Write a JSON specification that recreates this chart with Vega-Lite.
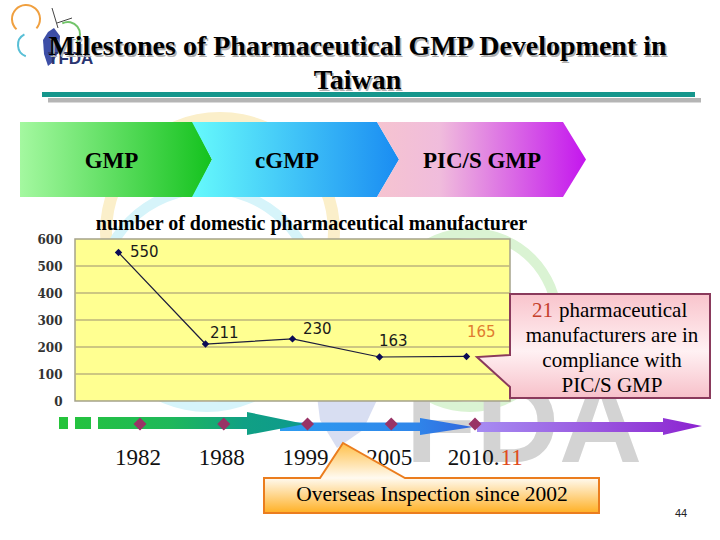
{
  "$schema": "https://vega.github.io/schema/vega-lite/v6.json",
  "width": 435,
  "height": 162,
  "autosize": {"type": "none"},
  "padding": {"left": 75, "top": 239, "right": 210, "bottom": 139},
  "background": "#ffffff",
  "config": {
    "view": {"stroke": null},
    "text": {"font": "Liberation Serif"},
    "axisY": {
      "grid": false, "domain": false, "ticks": false, "labelOverlap": false, "tickCount": 7,
      "labelFont": "DejaVu Serif", "labelFontWeight": "bold", "labelFontSize": 12,
      "labelColor": "#333333", "labelPadding": 13
    }
  },
  "datasets": {
    "manufacturers": [
      {"year": "1982", "count": 550},
      {"year": "1988", "count": 211},
      {"year": "1999", "count": 230},
      {"year": "2005", "count": 163},
      {"year": "2010.11", "count": 165}
    ],
    "gridlevels": [
      {"level": 100}, {"level": 200}, {"level": 300}, {"level": 400}, {"level": 500}
    ]
  },
  "layer": [
    {
      "data": {"values": [{}]},
      "layer": [
        {"mark": {"type": "arc", "radius": 120, "radius2": 108, "theta": 0, "theta2": 6.2832, "color": "#fbefca"},
         "encoding": {"x": {"datum": 220, "type": "quantitative", "scale": {"domain": [0, 720], "range": [-75, 645]}, "axis": null},
                      "y": {"datum": 232, "type": "quantitative", "scale": {"domain": [0, 540], "range": [-239, 301]}, "axis": null}}},
        {"mark": {"type": "arc", "radius": 114, "radius2": 104, "theta": 0, "theta2": 6.2832, "color": "#d6f4fa"},
         "encoding": {"x": {"datum": 207, "type": "quantitative", "scale": {"domain": [0, 720], "range": [-75, 645]}, "axis": null},
                      "y": {"datum": 298, "type": "quantitative", "scale": {"domain": [0, 540], "range": [-239, 301]}, "axis": null}}},
        {"mark": {"type": "arc", "radius": 92, "radius2": 82, "theta": 0, "theta2": 6.2832, "color": "#daf3d3"},
         "encoding": {"x": {"datum": 470, "type": "quantitative", "scale": {"domain": [0, 720], "range": [-75, 645]}, "axis": null},
                      "y": {"datum": 320, "type": "quantitative", "scale": {"domain": [0, 540], "range": [-239, 301]}, "axis": null}}},
        {"mark": {"type": "point", "shape": "M-0.10,-0.60L0.30,-0.60L0.32,0.0L0.18,0.30L-0.08,0.48L-0.25,0.20L-0.30,-0.20Z", "size": 40000, "filled": true, "fill": "#d8def2", "strokeWidth": 0, "opacity": 1},
         "encoding": {"x": {"datum": 345, "type": "quantitative", "scale": {"domain": [0, 720], "range": [-75, 645]}, "axis": null},
                      "y": {"datum": 400, "type": "quantitative", "scale": {"domain": [0, 540], "range": [-239, 301]}, "axis": null}}},
        {"mark": {"type": "text", "text": "FDA", "font": "Liberation Sans", "fontWeight": "bold", "fontSize": 115, "fill": "#d3d3d3", "align": "center", "baseline": "alphabetic"},
         "encoding": {"x": {"datum": 524, "type": "quantitative", "scale": {"domain": [0, 720], "range": [-75, 645]}, "axis": null},
                      "y": {"datum": 462, "type": "quantitative", "scale": {"domain": [0, 540], "range": [-239, 301]}, "axis": null}}}
      ]
    },
    {
      "data": {"name": "manufacturers"},
      "layer": [
        {"data": {"values": [{}]},
         "mark": {"type": "rect", "fill": "#ffff91", "stroke": "#a5a28a", "strokeWidth": 1.5},
         "encoding": {"y": {"datum": 0, "type": "quantitative", "scale": {"domain": [0, 600]}, "axis": {"title": null, "values": [0, 100, 200, 300, 400, 500, 600], "tickCount": 7}},
                      "y2": {"datum": 600}}},
        {"data": {"name": "gridlevels"},
         "mark": {"type": "rule", "color": "#bcb57c", "strokeWidth": 1.3},
         "encoding": {"y": {"field": "level", "type": "quantitative", "title": null}}},
        {"mark": {"type": "line", "color": "#1d1d3d", "strokeWidth": 1.2},
         "encoding": {"x": {"field": "year", "type": "ordinal", "scale": {"type": "point", "padding": 0.5, "domain": ["1982", "1988", "1999", "2005", "2010.11"]}, "axis": null},
                      "y": {"field": "count", "type": "quantitative", "title": null}}},
        {"mark": {"type": "point", "shape": "diamond", "filled": true, "size": 55, "color": "#0b0b55", "opacity": 1},
         "encoding": {"x": {"field": "year", "type": "ordinal", "axis": null},
                      "y": {"field": "count", "type": "quantitative", "title": null}}},
        {"transform": [{"filter": "datum.year == '1982'"}],
         "mark": {"type": "text", "font": "DejaVu Sans", "fontSize": 15, "align": "left", "baseline": "alphabetic", "dx": 11.5, "dy": 4.5, "color": "#1a1a1a"},
         "encoding": {"x": {"field": "year", "type": "ordinal", "axis": null}, "y": {"field": "count", "type": "quantitative", "title": null}, "text": {"field": "count", "type": "quantitative"}}},
        {"transform": [{"filter": "datum.year == '1988'"}],
         "mark": {"type": "text", "font": "DejaVu Sans", "fontSize": 15, "align": "left", "baseline": "alphabetic", "dx": 4.5, "dy": -6, "color": "#1a1a1a"},
         "encoding": {"x": {"field": "year", "type": "ordinal", "axis": null}, "y": {"field": "count", "type": "quantitative", "title": null}, "text": {"field": "count", "type": "quantitative"}}},
        {"transform": [{"filter": "datum.year == '1999'"}],
         "mark": {"type": "text", "font": "DejaVu Sans", "fontSize": 15, "align": "left", "baseline": "alphabetic", "dx": 10.5, "dy": -5, "color": "#1a1a1a"},
         "encoding": {"x": {"field": "year", "type": "ordinal", "axis": null}, "y": {"field": "count", "type": "quantitative", "title": null}, "text": {"field": "count", "type": "quantitative"}}},
        {"transform": [{"filter": "datum.year == '2005'"}],
         "mark": {"type": "text", "font": "DejaVu Sans", "fontSize": 15, "align": "left", "baseline": "alphabetic", "dx": -0.5, "dy": -11, "color": "#1a1a1a"},
         "encoding": {"x": {"field": "year", "type": "ordinal", "axis": null}, "y": {"field": "count", "type": "quantitative", "title": null}, "text": {"field": "count", "type": "quantitative"}}},
        {"transform": [{"filter": "datum.year == '2010.11'"}],
         "mark": {"type": "text", "font": "DejaVu Sans", "fontSize": 15, "align": "left", "baseline": "alphabetic", "dx": 0.5, "dy": -19, "color": "#e07b30"},
         "encoding": {"x": {"field": "year", "type": "ordinal", "axis": null}, "y": {"field": "count", "type": "quantitative", "title": null}, "text": {"field": "count", "type": "quantitative"}}}
      ]
    },
    {
      "data": {"values": [{}]},
      "resolve": {"scale": {"x": "independent"}},
      "layer": [
        {"mark": {"type": "rect", "color": "#15968c"},
         "encoding": {"x": {"datum": 42, "type": "quantitative", "scale": {"domain": [0, 720], "range": [-75, 645]}, "axis": null}, "x2": {"datum": 695},
                      "y": {"datum": 92, "type": "quantitative", "scale": {"domain": [0, 540], "range": [-239, 301]}, "axis": null}, "y2": {"datum": 97}}},
        {"mark": {"type": "rect", "color": "#b5b5b5"},
         "encoding": {"x": {"datum": 48, "type": "quantitative", "scale": {"domain": [0, 720], "range": [-75, 645]}, "axis": null}, "x2": {"datum": 701},
                      "y": {"datum": 98, "type": "quantitative", "scale": {"domain": [0, 540], "range": [-239, 301]}, "axis": null}, "y2": {"datum": 102.5}}},
        {"mark": {"type": "arc", "radius": 15, "radius2": 13, "theta": -2.4, "theta2": 2.3, "color": "#f0a040"},
         "encoding": {"x": {"datum": 26, "type": "quantitative", "scale": {"domain": [0, 720], "range": [-75, 645]}, "axis": null},
                      "y": {"datum": 19, "type": "quantitative", "scale": {"domain": [0, 540], "range": [-239, 301]}, "axis": null}}},
        {"mark": {"type": "arc", "radius": 13, "radius2": 11, "theta": 3.5, "theta2": 5.8, "color": "#58bfd6"},
         "encoding": {"x": {"datum": 30, "type": "quantitative", "scale": {"domain": [0, 720], "range": [-75, 645]}, "axis": null},
                      "y": {"datum": 45, "type": "quantitative", "scale": {"domain": [0, 540], "range": [-239, 301]}, "axis": null}}},
        {"mark": {"type": "arc", "radius": 13, "radius2": 11, "theta": -0.5, "theta2": 2.3, "color": "#72c46a"},
         "encoding": {"x": {"datum": 68, "type": "quantitative", "scale": {"domain": [0, 720], "range": [-75, 645]}, "axis": null},
                      "y": {"datum": 34, "type": "quantitative", "scale": {"domain": [0, 540], "range": [-239, 301]}, "axis": null}}},
        {"mark": {"type": "rule", "stroke": "#444444", "strokeWidth": 1},
         "encoding": {"x": {"datum": 52, "type": "quantitative", "scale": {"domain": [0, 720], "range": [-75, 645]}, "axis": null}, "x2": {"datum": 58},
                      "y": {"datum": 8, "type": "quantitative", "scale": {"domain": [0, 540], "range": [-239, 301]}, "axis": null}, "y2": {"datum": 28}}},
        {"mark": {"type": "rule", "stroke": "#444444", "strokeWidth": 1},
         "encoding": {"x": {"datum": 57, "type": "quantitative", "scale": {"domain": [0, 720], "range": [-75, 645]}, "axis": null}, "x2": {"datum": 72},
                      "y": {"datum": 23, "type": "quantitative", "scale": {"domain": [0, 540], "range": [-239, 301]}, "axis": null}, "y2": {"datum": 18}}},
        {"mark": {"type": "point", "shape": "M0.3,-1.8L0.9,-1.0L0.8,0.5L0.2,1.6L-0.3,2.0L-0.7,0.8L-0.8,-0.6L-0.3,-1.4Z", "size": 400, "filled": true, "fill": "#3d4ea6", "strokeWidth": 0, "opacity": 1},
         "encoding": {"x": {"datum": 51, "type": "quantitative", "scale": {"domain": [0, 720], "range": [-75, 645]}, "axis": null},
                      "y": {"datum": 46, "type": "quantitative", "scale": {"domain": [0, 540], "range": [-239, 301]}, "axis": null}}},
        {"mark": {"type": "text", "text": "TFDA", "font": "Liberation Sans", "fontWeight": "bold", "fontSize": 17, "color": "#2a3470", "align": "left", "baseline": "alphabetic"},
         "encoding": {"x": {"datum": 48, "type": "quantitative", "scale": {"domain": [0, 720], "range": [-75, 645]}, "axis": null},
                      "y": {"datum": 64, "type": "quantitative", "scale": {"domain": [0, 540], "range": [-239, 301]}, "axis": null}}},
        {"mark": {"type": "text", "text": ["Milestones of Pharmaceutical GMP Development in", "Taiwan"], "font": "Liberation Serif", "fontSize": 28, "fontWeight": "bold", "lineHeight": 34, "color": "#b0b0b0", "align": "center", "baseline": "alphabetic", "dx": 1.5, "dy": 1.5},
         "encoding": {"x": {"datum": 357.5, "type": "quantitative", "scale": {"domain": [0, 720], "range": [-75, 645]}, "axis": null},
                      "y": {"datum": 55, "type": "quantitative", "scale": {"domain": [0, 540], "range": [-239, 301]}, "axis": null}}},
        {"mark": {"type": "text", "text": ["Milestones of Pharmaceutical GMP Development in", "Taiwan"], "font": "Liberation Serif", "fontSize": 28, "fontWeight": "bold", "lineHeight": 34, "color": "#000000", "align": "center", "baseline": "alphabetic"},
         "encoding": {"x": {"datum": 357.5, "type": "quantitative", "scale": {"domain": [0, 720], "range": [-75, 645]}, "axis": null},
                      "y": {"datum": 55, "type": "quantitative", "scale": {"domain": [0, 540], "range": [-239, 301]}, "axis": null}}},
        {"mark": {"type": "point", "shape": "M-0.96,-0.375L0.77,-0.375L0.96,0L0.77,0.375L-0.96,0.375Z", "size": 40000, "filled": true, "strokeWidth": 0, "opacity": 1,
                  "fill": {"gradient": "linear", "x1": 0, "y1": 0, "x2": 1, "y2": 0, "stops": [{"offset": 0, "color": "#a4f8a0"}, {"offset": 1, "color": "#14c21e"}]}},
         "encoding": {"x": {"datum": 116, "type": "quantitative", "scale": {"domain": [0, 720], "range": [-75, 645]}, "axis": null},
                      "y": {"datum": 159.5, "type": "quantitative", "scale": {"domain": [0, 540], "range": [-239, 301]}, "axis": null}}},
        {"mark": {"type": "point", "shape": "M-1.03,-0.375L0.82,-0.375L1.04,0L0.82,0.375L-1.03,0.375L-0.83,0Z", "size": 40000, "filled": true, "strokeWidth": 0, "opacity": 1,
                  "fill": {"gradient": "linear", "x1": 0, "y1": 0, "x2": 1, "y2": 0, "stops": [{"offset": 0, "color": "#66fafc"}, {"offset": 1, "color": "#1a8cf2"}]}},
         "encoding": {"x": {"datum": 295, "type": "quantitative", "scale": {"domain": [0, 720], "range": [-75, 645]}, "axis": null},
                      "y": {"datum": 159.5, "type": "quantitative", "scale": {"domain": [0, 540], "range": [-239, 301]}, "axis": null}}},
        {"mark": {"type": "point", "shape": "M-1.04,-0.375L0.82,-0.375L1.05,0L0.82,0.375L-1.04,0.375L-0.82,0Z", "size": 40000, "filled": true, "strokeWidth": 0, "opacity": 1,
                  "fill": {"gradient": "linear", "x1": 0, "y1": 0, "x2": 1, "y2": 0, "stops": [{"offset": 0, "color": "#f6c4d0"}, {"offset": 0.3, "color": "#f0bcdc"}, {"offset": 1, "color": "#c416ee"}]}},
         "encoding": {"x": {"datum": 481, "type": "quantitative", "scale": {"domain": [0, 720], "range": [-75, 645]}, "axis": null},
                      "y": {"datum": 159.5, "type": "quantitative", "scale": {"domain": [0, 540], "range": [-239, 301]}, "axis": null}}},
        {"mark": {"type": "text", "text": "GMP", "font": "Liberation Serif", "fontSize": 23, "fontWeight": "bold", "color": "#000000", "align": "center", "baseline": "alphabetic"},
         "encoding": {"x": {"datum": 111.5, "type": "quantitative", "scale": {"domain": [0, 720], "range": [-75, 645]}, "axis": null},
                      "y": {"datum": 168, "type": "quantitative", "scale": {"domain": [0, 540], "range": [-239, 301]}, "axis": null}}},
        {"mark": {"type": "text", "text": "cGMP", "font": "Liberation Serif", "fontSize": 23, "fontWeight": "bold", "color": "#000000", "align": "center", "baseline": "alphabetic"},
         "encoding": {"x": {"datum": 287, "type": "quantitative", "scale": {"domain": [0, 720], "range": [-75, 645]}, "axis": null},
                      "y": {"datum": 168, "type": "quantitative", "scale": {"domain": [0, 540], "range": [-239, 301]}, "axis": null}}},
        {"mark": {"type": "text", "text": "PIC/S GMP", "font": "Liberation Serif", "fontSize": 23, "fontWeight": "bold", "color": "#000000", "align": "center", "baseline": "alphabetic"},
         "encoding": {"x": {"datum": 482, "type": "quantitative", "scale": {"domain": [0, 720], "range": [-75, 645]}, "axis": null},
                      "y": {"datum": 168, "type": "quantitative", "scale": {"domain": [0, 540], "range": [-239, 301]}, "axis": null}}},
        {"mark": {"type": "text", "text": "number of domestic pharmaceutical manufacturer", "font": "Liberation Serif", "fontSize": 20, "fontWeight": "bold", "color": "#000000", "align": "center", "baseline": "alphabetic"},
         "encoding": {"x": {"datum": 311.5, "type": "quantitative", "scale": {"domain": [0, 720], "range": [-75, 645]}, "axis": null},
                      "y": {"datum": 230, "type": "quantitative", "scale": {"domain": [0, 540], "range": [-239, 301]}, "axis": null}}},
        {"mark": {"type": "point", "shape": "M-1,-0.52L1,-0.52L1,0.52L-1,0.52L-1,0.41L-1.33,0.11L-1,0.09Z", "size": 40000, "filled": true, "opacity": 1,
                  "stroke": "#8a3a5c", "strokeWidth": 2,
                  "fill": {"gradient": "linear", "x1": 0, "y1": 0, "x2": 0, "y2": 1, "stops": [{"offset": 0, "color": "#f9c4cc"}, {"offset": 0.55, "color": "#fff1f3"}, {"offset": 1, "color": "#f7c0c9"}]}},
         "encoding": {"x": {"datum": 610, "type": "quantitative", "scale": {"domain": [0, 720], "range": [-75, 645]}, "axis": null},
                      "y": {"datum": 346, "type": "quantitative", "scale": {"domain": [0, 540], "range": [-239, 301]}, "axis": null}}},
        {"mark": {"type": "text", "text": "21", "font": "Liberation Serif", "fontSize": 21, "color": "#c5402c", "align": "right", "baseline": "alphabetic"},
         "encoding": {"x": {"datum": 553, "type": "quantitative", "scale": {"domain": [0, 720], "range": [-75, 645]}, "axis": null},
                      "y": {"datum": 317, "type": "quantitative", "scale": {"domain": [0, 540], "range": [-239, 301]}, "axis": null}}},
        {"mark": {"type": "text", "text": "pharmaceutical", "font": "Liberation Serif", "fontSize": 21, "color": "#000000", "align": "left", "baseline": "alphabetic"},
         "encoding": {"x": {"datum": 559, "type": "quantitative", "scale": {"domain": [0, 720], "range": [-75, 645]}, "axis": null},
                      "y": {"datum": 317, "type": "quantitative", "scale": {"domain": [0, 540], "range": [-239, 301]}, "axis": null}}},
        {"mark": {"type": "text", "text": "manufacturers are in", "font": "Liberation Serif", "fontSize": 21, "color": "#000000", "align": "center", "baseline": "alphabetic"},
         "encoding": {"x": {"datum": 612, "type": "quantitative", "scale": {"domain": [0, 720], "range": [-75, 645]}, "axis": null},
                      "y": {"datum": 342, "type": "quantitative", "scale": {"domain": [0, 540], "range": [-239, 301]}, "axis": null}}},
        {"mark": {"type": "text", "text": "compliance with", "font": "Liberation Serif", "fontSize": 21, "color": "#000000", "align": "center", "baseline": "alphabetic"},
         "encoding": {"x": {"datum": 612, "type": "quantitative", "scale": {"domain": [0, 720], "range": [-75, 645]}, "axis": null},
                      "y": {"datum": 367, "type": "quantitative", "scale": {"domain": [0, 540], "range": [-239, 301]}, "axis": null}}},
        {"mark": {"type": "text", "text": "PIC/S GMP", "font": "Liberation Serif", "fontSize": 21, "color": "#000000", "align": "center", "baseline": "alphabetic"},
         "encoding": {"x": {"datum": 612, "type": "quantitative", "scale": {"domain": [0, 720], "range": [-75, 645]}, "axis": null},
                      "y": {"datum": 392, "type": "quantitative", "scale": {"domain": [0, 540], "range": [-239, 301]}, "axis": null}}},
        {"mark": {"type": "point", "shape": "M-0.96,-0.045L0.44,-0.045L0.44,-0.09L0.97,0L0.44,0.08L0.44,0.04L-0.96,0.04Z", "size": 40000, "filled": true, "strokeWidth": 0, "opacity": 1,
                  "fill": {"gradient": "linear", "x1": 0, "y1": 0, "x2": 1, "y2": 0, "stops": [{"offset": 0, "color": "#2d9cf0"}, {"offset": 0.7, "color": "#2f86ea"}, {"offset": 1, "color": "#3366dd"}]}},
         "encoding": {"x": {"datum": 376, "type": "quantitative", "scale": {"domain": [0, 720], "range": [-75, 645]}, "axis": null},
                      "y": {"datum": 427, "type": "quantitative", "scale": {"domain": [0, 540], "range": [-239, 301]}, "axis": null}}},
        {"mark": {"type": "point", "shape": "M-1.41,-0.06L-1.32,-0.06L-1.32,0.06L-1.41,0.06ZM-1.25,-0.06L-1.09,-0.06L-1.09,0.06L-1.25,0.06ZM-1.02,-0.06L0.47,-0.06L0.47,-0.11L1.05,0.01L0.47,0.12L0.47,0.06L-1.02,0.06Z", "size": 40000, "filled": true, "strokeWidth": 0, "opacity": 1,
                  "fill": {"gradient": "linear", "x1": 0, "y1": 0, "x2": 1, "y2": 0, "stops": [{"offset": 0, "color": "#25c43a"}, {"offset": 0.45, "color": "#1fb85a"}, {"offset": 0.75, "color": "#10a084"}, {"offset": 1, "color": "#0d9a8c"}]}},
         "encoding": {"x": {"datum": 200, "type": "quantitative", "scale": {"domain": [0, 720], "range": [-75, 645]}, "axis": null},
                      "y": {"datum": 423, "type": "quantitative", "scale": {"domain": [0, 540], "range": [-239, 301]}, "axis": null}}},
        {"mark": {"type": "point", "shape": "M-1.13,-0.05L0.73,-0.05L0.73,-0.09L1.12,-0.01L0.73,0.08L0.73,0.05L-1.13,0.05Z", "size": 40000, "filled": true, "strokeWidth": 0, "opacity": 1,
                  "fill": {"gradient": "linear", "x1": 0, "y1": 0, "x2": 1, "y2": 0, "stops": [{"offset": 0, "color": "#a68cf2"}, {"offset": 0.5, "color": "#9a5ae0"}, {"offset": 1, "color": "#8c22d0"}]}},
         "encoding": {"x": {"datum": 590, "type": "quantitative", "scale": {"domain": [0, 720], "range": [-75, 645]}, "axis": null},
                      "y": {"datum": 427, "type": "quantitative", "scale": {"domain": [0, 540], "range": [-239, 301]}, "axis": null}}},
        {
          "data": {"name": "manufacturers"},
          "layer": [
            {"mark": {"type": "point", "shape": "diamond", "filled": true, "size": 170, "color": "#993366", "opacity": 1},
             "encoding": {"x": {"field": "year", "type": "ordinal", "scale": {"type": "point", "range": [65, 400], "padding": 0, "domain": ["1982", "1988", "1999", "2005", "2010.11"]}, "axis": null},
                          "y": {"datum": 424, "type": "quantitative", "scale": {"domain": [0, 540], "range": [-239, 301]}, "axis": null}}},
            {"transform": [{"filter": "datum.year != '2010.11'"}],
             "mark": {"type": "text", "font": "Liberation Serif", "fontSize": 23, "align": "center", "baseline": "alphabetic", "dx": -2, "color": "#111111"},
             "encoding": {"x": {"field": "year", "type": "ordinal", "axis": null},
                          "y": {"datum": 465, "type": "quantitative", "scale": {"domain": [0, 540], "range": [-239, 301]}, "axis": null},
                          "text": {"field": "year", "type": "nominal"}}},
            {"transform": [{"filter": "datum.year == '2010.11'"}],
             "mark": {"type": "text", "text": "2010.", "font": "Liberation Serif", "fontSize": 23, "align": "right", "baseline": "alphabetic", "dx": 24.5, "color": "#111111"},
             "encoding": {"x": {"field": "year", "type": "ordinal", "axis": null},
                          "y": {"datum": 465, "type": "quantitative", "scale": {"domain": [0, 540], "range": [-239, 301]}, "axis": null}}},
            {"transform": [{"filter": "datum.year == '2010.11'"}],
             "mark": {"type": "text", "text": "11", "font": "Liberation Serif", "fontSize": 23, "align": "left", "baseline": "alphabetic", "dx": 25.5, "color": "#e04b1b"},
             "encoding": {"x": {"field": "year", "type": "ordinal", "axis": null},
                          "y": {"datum": 465, "type": "quantitative", "scale": {"domain": [0, 540], "range": [-239, 301]}, "axis": null}}}
          ]
        },
        {"mark": {"type": "point", "shape": "M-1.675,-0.175L-1.115,-0.175L-0.885,-0.525L-0.265,-0.175L1.675,-0.175L1.675,0.175L-1.675,0.175Z", "size": 40000, "filled": true, "opacity": 1,
                  "stroke": "#eb7d1e", "strokeWidth": 2,
                  "fill": {"gradient": "linear", "x1": 0, "y1": 0, "x2": 0, "y2": 1, "stops": [{"offset": 0, "color": "#ffc04a"}, {"offset": 0.5, "color": "#fffaf0"}, {"offset": 1, "color": "#ffb024"}]}},
         "encoding": {"x": {"datum": 431.5, "type": "quantitative", "scale": {"domain": [0, 720], "range": [-75, 645]}, "axis": null},
                      "y": {"datum": 495.5, "type": "quantitative", "scale": {"domain": [0, 540], "range": [-239, 301]}, "axis": null}}},
        {"mark": {"type": "text", "text": "Overseas Inspection since 2002", "font": "Liberation Serif", "fontSize": 21.5, "color": "#000000", "align": "center", "baseline": "alphabetic"},
         "encoding": {"x": {"datum": 432, "type": "quantitative", "scale": {"domain": [0, 720], "range": [-75, 645]}, "axis": null},
                      "y": {"datum": 501, "type": "quantitative", "scale": {"domain": [0, 540], "range": [-239, 301]}, "axis": null}}},
        {"mark": {"type": "text", "text": "44", "font": "Liberation Sans", "fontSize": 11, "color": "#222222", "align": "center", "baseline": "alphabetic"},
         "encoding": {"x": {"datum": 681, "type": "quantitative", "scale": {"domain": [0, 720], "range": [-75, 645]}, "axis": null},
                      "y": {"datum": 517, "type": "quantitative", "scale": {"domain": [0, 540], "range": [-239, 301]}, "axis": null}}}
      ]
    }
  ],
  "resolve": {"scale": {"x": "independent", "y": "independent"}}
}
